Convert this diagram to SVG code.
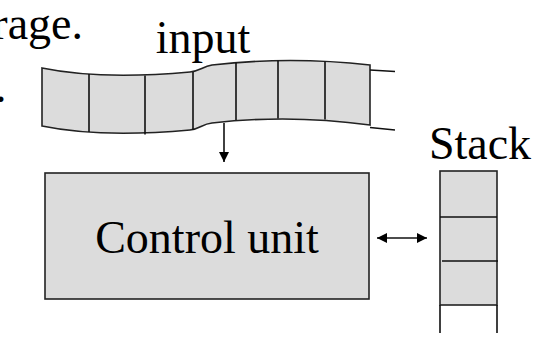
<svg xmlns="http://www.w3.org/2000/svg" width="560" height="356" viewBox="0 0 560 356">
<defs>
<style>
.t{font-family:"Liberation Serif","Times New Roman",serif;font-size:46px;fill:#000}
.sh{fill:#dcdcdc;stroke:#222;stroke-width:1.6}
.ln{fill:none;stroke:#111;stroke-width:1.6}
</style>
<marker id="ah" viewBox="0 0 10 10" refX="10" refY="5" markerWidth="10" markerHeight="10" markerUnits="userSpaceOnUse" orient="auto-start-reverse">
<path d="M0,0 L10,5 L0,10 Z" fill="#000"/>
</marker>
</defs>
<rect width="560" height="356" fill="#fff"/>
<text class="t" x="83" y="39" text-anchor="end">rage.</text>
<text class="t" x="-5" y="102">.</text>
<g id="input">
<path class="sh" d="M42,68 Q100,80 190,72 C200,71 202,67 212,65 Q290,56 370,65 L370,125 Q290,114 212,123 C202,124 200,129 190,130 Q100,138 42,126 Z"/>
<path class="ln" d="M89,74 V132 M145,75.5 V134.5 M193,72 V130 M236,62.5 V120 M278,60.5 V118.5 M325,61.5 V119.5"/>
<path class="ln" d="M370,70 L395,71.5 M370,127.5 L395,130"/>
<text class="t" x="203" y="53" text-anchor="middle">input</text>
</g>
<g id="control">
<rect class="sh" x="45" y="173" width="324" height="126"/>
<text class="t" x="207" y="253" text-anchor="middle">Control unit</text>
</g>
<g id="stack">
<rect class="sh" x="440" y="171" width="57" height="134"/>
<path class="ln" d="M440,217 H497 M442,261 H498 M440,305 V333 M497,305 V333"/>
<text class="t" x="480" y="159" text-anchor="middle">Stack</text>
</g>
<g id="connectors">
<path class="ln" d="M224,123 V162" marker-end="url(#ah)"/>
<path class="ln" d="M377,238 H427" marker-start="url(#ah)" marker-end="url(#ah)"/>
</g>
</svg>
